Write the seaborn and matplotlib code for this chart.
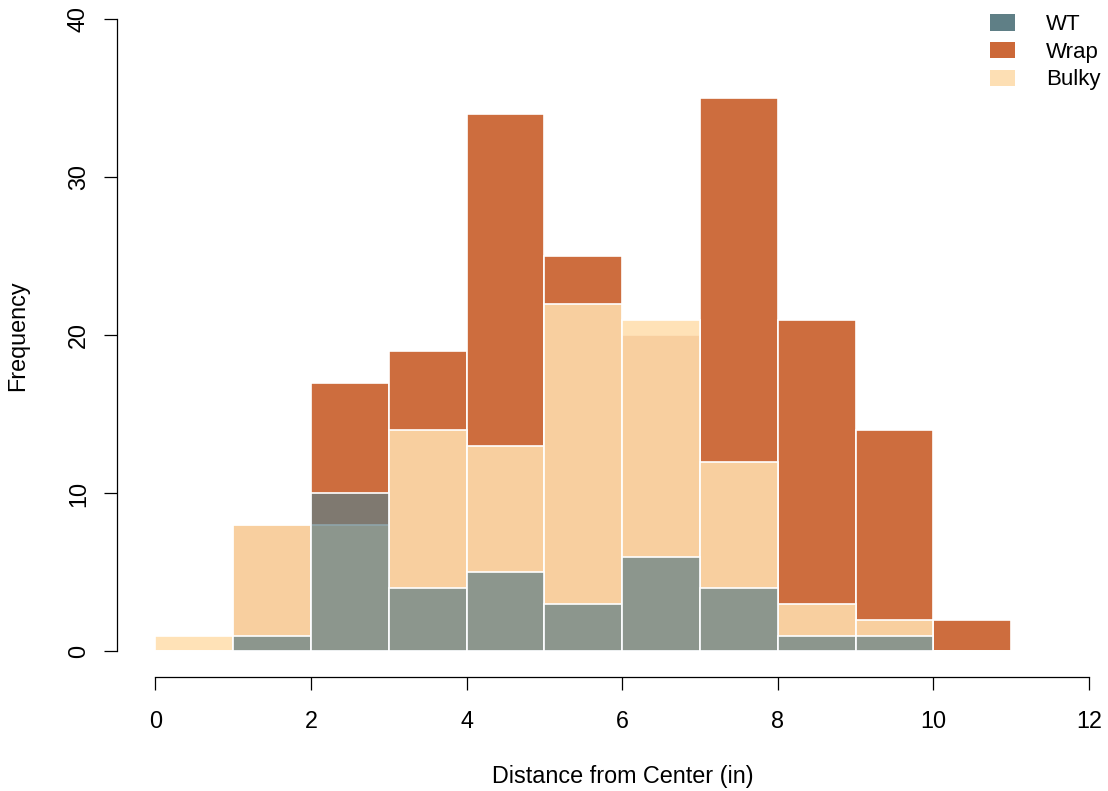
import numpy as np
import pandas as pd
import matplotlib
matplotlib.use("Agg")
import matplotlib.pyplot as plt
from matplotlib.patches import Patch
import seaborn as sns

# Histogram counts per 1-inch bin (bins 0-1, 1-2, ..., 10-11)
bin_edges = [0, 1, 2, 3, 4, 5, 6, 7, 8, 9, 10, 11]
wt_counts = [0, 1, 10, 4, 5, 3, 6, 4, 1, 1, 0]
wrap_counts = [0, 8, 17, 19, 34, 25, 20, 35, 21, 14, 2]
bulky_counts = [1, 8, 8, 14, 13, 22, 21, 12, 3, 2, 0]

x_ticks = [0, 2, 4, 6, 8, 10, 12]
y_ticks = [0, 10, 20, 30, 40]
group_labels = ["WT", "Wrap", "Bulky"]

bin_centers = [(a + b) / 2 for a, b in zip(bin_edges[:-1], bin_edges[1:])]
df = pd.DataFrame({
    "center": bin_centers * 3,
    "count": wt_counts + wrap_counts + bulky_counts,
    "group": ["WT"] * 11 + ["Wrap"] * 11 + ["Bulky"] * 11,
})

sns.set_style("white")
plt.rcParams["font.family"] = ["Liberation Sans", "DejaVu Sans"]
plt.rcParams["text.color"] = "black"
plt.rcParams["axes.labelcolor"] = "black"
plt.rcParams["xtick.color"] = "black"
plt.rcParams["ytick.color"] = "black"

W, H = 1108, 791
fig = plt.figure(figsize=(W / 100, H / 100), dpi=100)
# axes box in pixels: left 117, right 1100, top 10, bottom 677
ax = fig.add_axes([117 / W, (H - 677) / H, (1100 - 117) / W, (677 - 10) / H])

wt_col = "#5f7f86"
wrap_col = "#cc6838"
bulky_col = "#ffdead"

# drawing order: Wrap underneath, Bulky over it, WT on top
styles = {
    "Wrap": dict(color=wrap_col, alpha=0.97),
    "Bulky": dict(color=bulky_col, alpha=0.88),
    "WT": dict(color=wt_col, alpha=0.70),
}
for g in ["Wrap", "Bulky", "WT"]:
    sub = df[df["group"] == g]
    sns.histplot(x=sub["center"], weights=sub["count"], bins=bin_edges,
                 color=styles[g]["color"], alpha=styles[g]["alpha"],
                 edgecolor="white", linewidth=1.2, ax=ax)

ax.set_xlim(-0.492, 12.14)
ax.set_ylim(-1.614, 40.6)

for s in ["top", "right"]:
    ax.spines[s].set_visible(False)
for s in ["left", "bottom"]:
    ax.spines[s].set_color("black")
    ax.spines[s].set_linewidth(0.9)
ax.spines["left"].set_bounds(0, 40)
ax.spines["bottom"].set_bounds(0, 12)

fs = 16.8
ax.set_xticks(x_ticks)
ax.set_yticks(y_ticks)
ax.set_xticklabels([str(v) for v in x_ticks], fontsize=fs)
ax.set_yticklabels([str(v) for v in y_ticks], fontsize=fs, rotation=90, va="center")
ax.tick_params(axis="both", which="major", bottom=True, left=True,
               direction="out", length=9.5, width=0.9, color="black",
               labelcolor="black")
ax.tick_params(axis="x", pad=14)
ax.tick_params(axis="y", pad=10)

ax.set_xlabel("Distance from Center (in)", fontsize=fs, color="black")
ax.set_ylabel("Frequency", fontsize=fs, color="black")
ax.xaxis.set_label_coords((623 - 117) / 983, (677 - 777) / 667)
ax.xaxis.label.set_va("center")
ax.yaxis.set_label_coords((18 - 117) / 983, (677 - 336) / 667)
ax.yaxis.label.set_va("center")

handles = [
    Patch(facecolor=wt_col, edgecolor="none"),
    Patch(facecolor=wrap_col, edgecolor="none"),
    Patch(facecolor="#fddfb4", edgecolor="none"),
]
leg = ax.legend(handles, group_labels, loc="upper right", frameon=False,
                bbox_to_anchor=(1112 / W, 1 - 3 / H), bbox_transform=fig.transFigure,
                fontsize=16, handlelength=1.15, handleheight=0.75,
                handletextpad=1.4, labelspacing=0.3, borderaxespad=0.1)
for t in leg.get_texts():
    t.set_color("black")

fig.savefig("out.png", dpi=100)
